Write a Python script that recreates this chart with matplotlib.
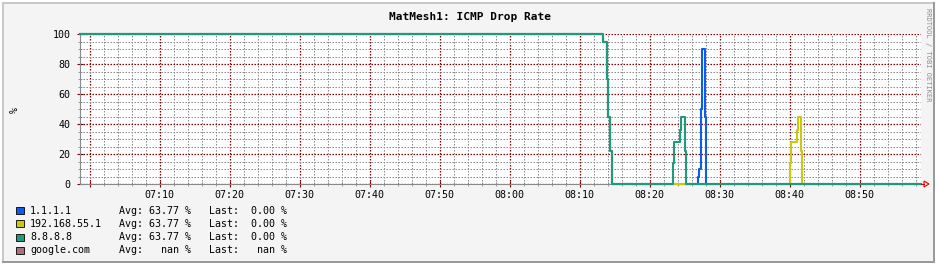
import matplotlib
matplotlib.use("Agg")
import matplotlib.pyplot as plt
import matplotlib.dates as mdates
from matplotlib.patches import Rectangle, Polygon
from matplotlib.lines import Line2D
from matplotlib.ticker import MultipleLocator, FuncFormatter
import pandas as pd

# Werte (Zeit -> Verlust in %), Stufen wie bei rrdtool
day = "2024-01-01 "
t_start = "06:58:34"
t_end = "08:58:45"

blue_times = [t_start, "08:13:22", "08:13:56", "08:14:05", "08:14:22", "08:14:34",
              "08:26:52", "08:27:00", "08:27:20", "08:27:26", "08:27:54", "08:28:02", t_end]
blue_vals = [100, 95, 70, 45, 22, 0, 5, 10, 50, 90, 45, 0, 0]

yellow_times = [t_start, "08:13:22", "08:13:56", "08:14:05", "08:14:22", "08:14:34",
                "08:40:00", "08:40:08", "08:41:00", "08:41:08", "08:41:40", "08:41:48", t_end]
yellow_vals = [100, 95, 70, 45, 22, 0, 14, 28, 36, 45, 22, 0, 0]

green_times = [t_start, "08:13:22", "08:13:56", "08:14:05", "08:14:22", "08:14:34",
               "08:23:22", "08:23:31", "08:24:22", "08:24:31", "08:25:00", "08:25:08", t_end]
green_vals = [100, 95, 70, 45, 22, 0, 14, 28, 36, 45, 22, 0, 0]

names = ["1.1.1.1", "192.168.55.1", "8.8.8.8", "google.com"]
colors = ["#0a5ee8", "#c9c914", "#1f9a7c", "#a8727c"]
avg_txt = ["63.77", "63.77", "63.77", "  nan"]
last_txt = [" 0.00", " 0.00", " 0.00", "  nan"]

W, H = 940, 266
MONO = "DejaVu Sans Mono"

fig = plt.figure(figsize=(W / 100, H / 100), dpi=100)
fig.patch.set_facecolor("white")


def fx(x):
    return x / W


def fy(y):
    return 1 - y / H


def frect(x0, y0, x1, y1, c):
    fig.add_artist(Rectangle((fx(x0), fy(y1)), fx(x1) - fx(x0), fy(y0) - fy(y1),
                             transform=fig.transFigure, facecolor=c, edgecolor="none", zorder=-10))


# Rahmen im rrdtool-Stil
frect(2, 2, 935, 263, "#9a9a9a")
frect(2, 2, 933, 261, "#c8c8c8")
frect(4, 4, 933, 261, "#f4f4f4")

ax = fig.add_axes([fx(79.7), fy(184), fx(921) - fx(79.7), fy(34) - fy(184)])
ax.set_facecolor("white")

def ts(lst):
    return pd.to_datetime([day + t for t in lst])

ax.plot(ts(blue_times), blue_vals, drawstyle="steps-post", color=colors[0], lw=1.5, clip_on=False, zorder=3)
ax.plot(ts(yellow_times), yellow_vals, drawstyle="steps-post", color=colors[1], lw=1.5, clip_on=False, zorder=3)
ax.plot(ts(green_times), green_vals, drawstyle="steps-post", color=colors[2], lw=1.5, clip_on=False, zorder=3)

ax.set_xlim(pd.Timestamp(day + t_start), pd.Timestamp(day + t_end))
ax.set_ylim(0, 100)

ax.xaxis.set_major_locator(mdates.MinuteLocator(byminute=[0, 10, 20, 30, 40, 50]))
ax.xaxis.set_minor_locator(mdates.MinuteLocator(byminute=range(0, 60, 2)))


def fmt_time(x, pos):
    s = mdates.num2date(x).strftime("%H:%M")
    return "" if s == "07:00" else s


ax.xaxis.set_major_formatter(FuncFormatter(fmt_time))
ax.yaxis.set_major_locator(MultipleLocator(20))
ax.yaxis.set_minor_locator(MultipleLocator(5))

ax.set_axisbelow(True)
ax.grid(which="minor", color="#8c8c8c", linestyle=(0, (1.5, 1.5)), lw=0.72)
ax.grid(which="major", color="#850000", linestyle=(0, (1.2, 1.2)), lw=0.9)

for s in ["top", "right"]:
    ax.spines[s].set_visible(False)
for s in ["left", "bottom"]:
    ax.spines[s].set_color("#8a8a8a")
    ax.spines[s].set_linewidth(0.8)

ax.tick_params(which="major", direction="inout", length=5, width=0.8, color="#850000",
               labelsize=7.2, labelcolor="black")
ax.tick_params(which="minor", direction="inout", length=3, width=0.6, color="#8c8c8c")
ax.tick_params(axis="x", which="major", pad=2)
ax.tick_params(axis="y", which="major", pad=4)
for lab in ax.get_xticklabels() + ax.get_yticklabels():
    lab.set_family(MONO)

# Pfeil am Ende der x-Achse
fig.add_artist(Line2D([fx(921), fx(924)], [fy(184), fy(184)], transform=fig.transFigure,
                      color="#e00000", lw=0.8))
fig.add_artist(Polygon([(fx(924), fy(181)), (fx(924), fy(187)), (fx(929), fy(184))],
                       closed=True, fill=False, edgecolor="#e00000", lw=0.8,
                       transform=fig.transFigure))

fig.text(fx(470), fy(17), "MatMesh1: ICMP Drop Rate", ha="center", va="center",
         family=MONO, fontsize=8, fontweight="bold")
fig.text(fx(15), fy(110), "%", ha="center", va="center", rotation=90, family=MONO, fontsize=7.2)
fig.text(fx(928), fy(8), "RRDTOOL / TOBI OETIKER", ha="center", va="top", rotation=270,
         family=MONO, fontsize=5, color="#8e8e8e")

# Legende
rows = [210.7, 223.9, 237.1, 250.3]
for i, yy in enumerate(rows):
    fig.add_artist(Rectangle((fx(16), fy(yy + 3.5)), fx(24) - fx(16), fy(yy - 3.5) - fy(yy + 3.5),
                             transform=fig.transFigure, facecolor=colors[i], edgecolor="black", lw=0.6))
    fig.text(fx(30), fy(yy), names[i], ha="left", va="center", family=MONO, fontsize=7.2)
    fig.text(fx(119.3), fy(yy), "Avg: " + avg_txt[i] + " %", ha="left", va="center",
             family=MONO, fontsize=7.2)
    fig.text(fx(209.3), fy(yy), "Last: " + last_txt[i] + " %", ha="left", va="center",
             family=MONO, fontsize=7.2)

fig.savefig("out.png", dpi=100)
